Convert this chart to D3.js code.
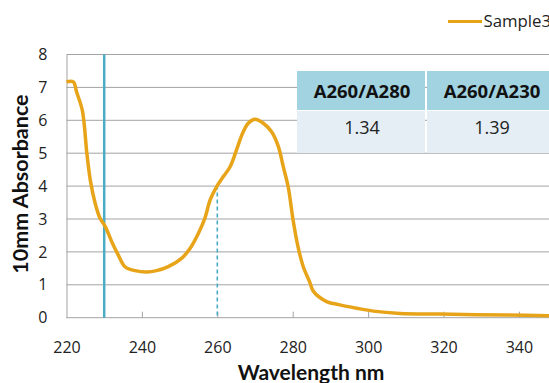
<!DOCTYPE html>
<html>
<head>
<meta charset="utf-8">
<script src="https://cdnjs.cloudflare.com/ajax/libs/d3/7.8.5/d3.min.js"></script>
<style>
  body { margin: 0; background: #fff; }
  svg { display: block; font-family: "Open Sans", sans-serif; }
</style>
</head>
<body>
<div id="chart"></div>
<script>
const WIDTH = 549, HEIGHT = 383;

// spectrum (wavelength nm, 10mm absorbance)
const wavelengths = [220, 221.8, 222.7, 224.2, 225.4, 226.3, 227.6, 228.9, 230.3, 232, 233.7, 235.5, 238.2, 241.3, 243.9, 247, 250.6, 252.8, 255, 256.7, 258.1, 259.8, 261.6, 263.4, 265.1, 266.5, 268.2, 270, 272.2, 274.4, 276.2, 277.5, 278.8, 280.1, 281.4, 282.8, 284.5, 285.5, 289, 292.5, 296.9, 301.4, 308.5, 319, 336.7, 350]
const absorbance = [7.17, 7.17, 6.85, 6.3, 5.0, 4.19, 3.48, 3.02, 2.77, 2.31, 1.91, 1.55, 1.43, 1.39, 1.43, 1.55, 1.81, 2.11, 2.57, 3.02, 3.58, 3.98, 4.29, 4.59, 5.1, 5.55, 5.91, 6.03, 5.91, 5.65, 5.2, 4.59, 3.98, 2.97, 2.16, 1.55, 1.09, 0.8, 0.49, 0.39, 0.29, 0.2, 0.13, 0.11, 0.08, 0.06]

const xTicks = [220, 240, 260, 280, 300, 320, 340]
const yTicks = [0, 1, 2, 3, 4, 5, 6, 7, 8]
const seriesName = "Sample3"
const solidMarker = 230
const dashedMarker = 260
const ratioHeaders = ["A260/A280", "A260/A230"]
const ratioValues = ["1.34", "1.39"]

const LEFT = 66.5, TOP = 54.5, BOTTOM = 317.7;
const CURVE = "#e8a419", TEAL = "#4bacc6", GRID = "#a3a3a3";

const svg = d3.select("#chart").append("svg").attr("width", WIDTH).attr("height", HEIGHT)

// scales: 20 nm ~ 75.4 px, plot runs off the right edge like the original
const x_scale = d3.scaleLinear().domain([220, 350]).range([LEFT, LEFT + 130 * 3.77])
const y_scale = d3.scaleLinear().domain([0, 8]).range([BOTTOM, TOP])

// horizontal gridlines
svg.append("g").selectAll("line").data(yTicks.filter(d => d > 0)).enter().append("line")
  .attr("x1", LEFT).attr("x2", WIDTH).attr("y1", d => y_scale(d)).attr("y2", d => y_scale(d))
  .attr("stroke", GRID).attr("stroke-width", 1)

// axes (ticks point inwards on x, none on y)
const gen_x = d3.axisBottom(x_scale).tickValues(xTicks).tickSize(-6).tickPadding(24).tickFormat(d3.format("d"))
const xg = svg.append("g").attr("transform", "translate(0," + BOTTOM + ")").call(gen_x)
xg.select(".domain").attr("stroke", GRID).attr("d", "M" + LEFT + ",0H" + WIDTH)
xg.selectAll(".tick line").attr("stroke", GRID)
xg.selectAll(".tick").filter(d => d === 220).select("line").remove()
xg.selectAll("text").attr("font-size", 16).attr("fill", "#222").attr("font-family", "Open Sans")

const gen_y = d3.axisLeft(y_scale).tickValues(yTicks).tickSize(0).tickPadding(19)
const yg = svg.append("g").attr("transform", "translate(" + LEFT + ",0)").call(gen_y)
yg.select(".domain").attr("stroke", GRID)
yg.selectAll("text").attr("font-size", 16).attr("fill", "#222").attr("font-family", "Open Sans")

// axis titles
svg.append("text").attr("x", 311).attr("y", 380).attr("text-anchor", "middle").attr("font-family", "Lato")
  .attr("font-size", 21).attr("font-weight", "bold").attr("fill", "#111").text("Wavelength nm")
svg.append("text").attr("transform", "translate(28," + ((TOP + BOTTOM) / 2 - 2) + ") rotate(-90)")
  .attr("text-anchor", "middle").attr("font-family", "Lato").attr("font-size", 21.5)
  .attr("font-weight", "bold").attr("fill", "#111").text("10mm Absorbance")

// marker lines at 230 nm and 260 nm
svg.append("line").attr("x1", x_scale(solidMarker)).attr("x2", x_scale(solidMarker))
  .attr("y1", TOP).attr("y2", BOTTOM).attr("stroke", TEAL).attr("stroke-width", 2.5)

const points = wavelengths.map((w, i) => ({ w: w, a: absorbance[i] }))
const at260 = d3.scaleLinear().domain(wavelengths).range(absorbance)(dashedMarker)
svg.append("line").attr("x1", x_scale(dashedMarker)).attr("x2", x_scale(dashedMarker))
  .attr("y1", y_scale(at260)).attr("y2", BOTTOM)
  .attr("stroke", TEAL).attr("stroke-width", 1.6).attr("stroke-dasharray", "4,3")

// the spectrum
const line = d3.line().x(d => x_scale(d.w)).y(d => y_scale(d.a)).curve(d3.curveCatmullRom)
svg.append("path").datum(points).attr("d", line).attr("fill", "none")
  .attr("stroke", CURVE).attr("stroke-width", 3.5).attr("stroke-linejoin", "round")

// ratio table
const table = svg.append("g").attr("transform", "translate(297,71)")
const colW = 128, headH = 39, bodyH = 42;
ratioHeaders.forEach((h, i) => {
  const col = table.append("g").attr("transform", "translate(" + (i * (colW + 2)) + ",0)")
  col.append("rect").attr("width", colW).attr("height", headH).attr("fill", "#a2d3e0")
  col.append("rect").attr("y", headH + 1).attr("width", colW).attr("height", bodyH).attr("fill", "#e4eef4")
  col.append("text").attr("x", colW / 2 + 1).attr("y", 26.5).attr("text-anchor", "middle")
    .attr("font-size", 18.5).attr("font-weight", "bold").attr("fill", "#111").text(h)
  col.append("text").attr("x", colW / 2 + 1).attr("y", 63).attr("text-anchor", "middle")
    .attr("font-size", 18).attr("fill", "#222").text(ratioValues[i])
})

// legend
const legend = svg.append("g").attr("transform", "translate(448,21.5)")
legend.append("line").attr("x1", 0).attr("x2", 34).attr("stroke", CURVE).attr("stroke-width", 3)
legend.append("text").attr("x", 35.5).attr("y", 5.5).attr("font-size", 16.8).attr("fill", "#222").text(seriesName)
</script>
</body>
</html>
